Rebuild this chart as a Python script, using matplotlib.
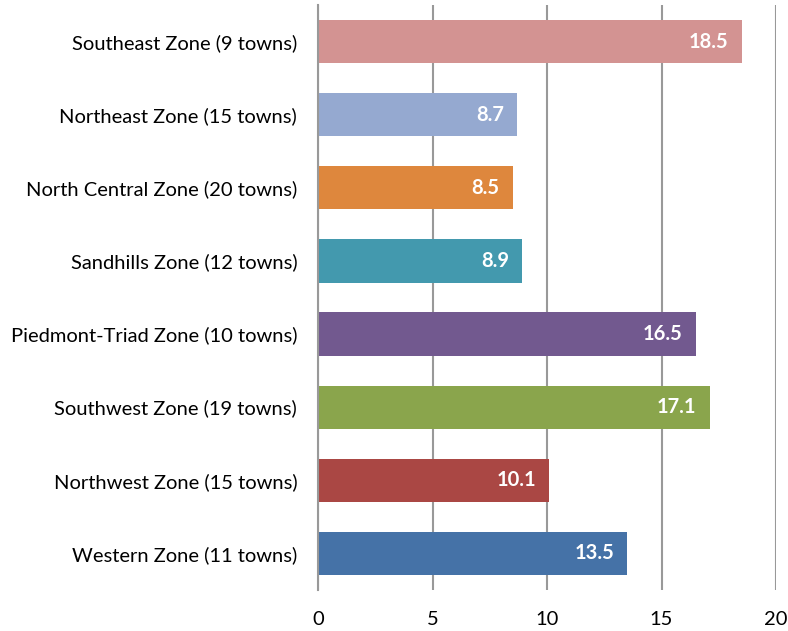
import matplotlib
matplotlib.use("Agg")
import matplotlib.pyplot as plt
from matplotlib.transforms import offset_copy

zones = [
    "Western Zone (11 towns)",
    "Northwest Zone (15 towns)",
    "Southwest Zone (19 towns)",
    "Piedmont-Triad Zone (10 towns)",
    "Sandhills Zone (12 towns)",
    "North Central Zone (20 towns)",
    "Northeast Zone (15 towns)",
    "Southeast Zone (9 towns)",
]
values = [13.5, 10.1, 17.1, 16.5, 8.9, 8.5, 8.7, 18.5]
colors = ["#4572A7", "#AA4744", "#8AA54C", "#72598F",
          "#4399AE", "#DE873D", "#95A9D0", "#D39392"]
xticks = [0, 5, 10, 15, 20]

plt.rcParams["font.family"] = ["Lato", "DejaVu Sans"]

fig = plt.figure(figsize=(7.88, 6.31), dpi=100)
ax = fig.add_axes([318 / 788, 1 - 590 / 631, (776 - 318) / 788, (590 - 5) / 631])

ypos = list(range(len(zones)))
ax.barh(ypos, values, height=0.59, color=colors, zorder=3)

for y, v in zip(ypos, values):
    tr = offset_copy(ax.transData, fig=fig, x=-13, y=0, units="dots")
    ax.text(v, y, f"{v:.1f}", transform=tr, ha="right", va="center",
            color="white", fontweight="bold", fontsize=14.5, zorder=4)

ax.set_xlim(0, 20)
ax.set_ylim(-0.5, len(zones) - 0.5)
ax.set_xticks(xticks)
ax.set_xticklabels([str(t) for t in xticks])
ax.set_yticks(ypos)
ax.set_yticklabels(zones)
ax.tick_params(axis="both", length=0, labelsize=14.5, colors="#000000")
ax.tick_params(axis="x", pad=15)
ax.tick_params(axis="y", pad=15)

ax.grid(axis="x", color="#999999", linewidth=1.5, zorder=0)
for s in ["top", "right", "bottom"]:
    ax.spines[s].set_visible(False)
ax.spines["left"].set_color("#999999")
ax.spines["left"].set_linewidth(1.5)
ax.spines["left"].set_zorder(5)

fig.savefig("out.png", dpi=100)
